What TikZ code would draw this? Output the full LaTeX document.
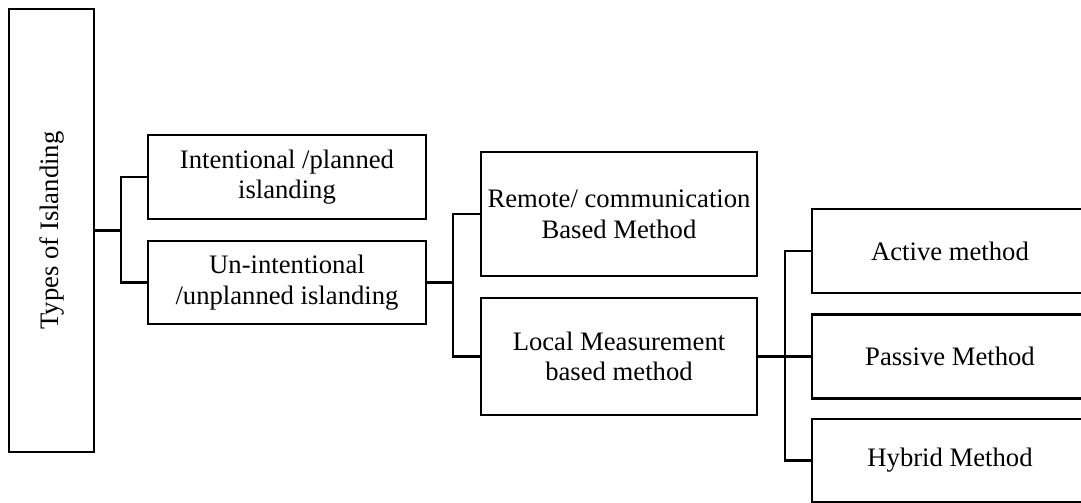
\documentclass[tikz,border=0pt]{standalone}
\usepackage{fontspec}
\setmainfont{Liberation Serif}
\usepackage{tikz}

\tikzset{
  box/.style={draw, line width=1.6pt, align=center, inner sep=0pt,
    font=\fontsize{20}{23}\selectfont},
  link/.style={line width=1.6pt}
}

\begin{document}
\begin{tikzpicture}[x=0.75pt, y=-0.75pt]

\path[use as bounding box] (0,0) rectangle (1081,503);
\clip (0,0) rectangle (1081,503);

\node[box, rotate=90, minimum width=332.25pt, minimum height=63.75pt] (types) at (51.5,230.5) {Types of Islanding};

\node[box, minimum width=208.5pt, minimum height=63pt] (intent) at (287,177) {Intentional /planned\\islanding};

\node[box, minimum width=208.5pt, minimum height=62.25pt] (unint) at (287,282.5) {Un-intentional\\/unplanned islanding};

\node[box, minimum width=207pt, minimum height=93pt] (remote) at (619,214) {Remote/ communication\\Based Method};

\node[box, minimum width=207pt, minimum height=87.75pt] (local) at (619,356.5) {Local Measurement\\based method};

\node[box, minimum width=207pt, minimum height=63pt] (active) at (950,251) {Active method};
\node[box, minimum width=207pt, minimum height=63pt] (passive) at (950,356.5) {Passive Method};
\node[box, minimum width=207pt, minimum height=62.25pt] (hybrid) at (950,460.5) {Hybrid Method};

\coordinate (j1) at (121,230.5);
\coordinate (j2) at (453,282.5);
\coordinate (j3) at (785,356.5);

\draw[link] (types.south) -- (j1);
\draw[link] (j1) |- (intent.west);
\draw[link] (j1) |- (unint.west);

\draw[link] (unint.east) -- (j2);
\draw[link] (j2) |- (remote.west);
\draw[link] (j2) |- (local.west);

\draw[link] (local.east) -- (j3);
\draw[link] (j3) |- (active.west);
\draw[link] (j3) -- (passive.west);
\draw[link] (j3) |- (hybrid.west);

\end{tikzpicture}
\end{document}
